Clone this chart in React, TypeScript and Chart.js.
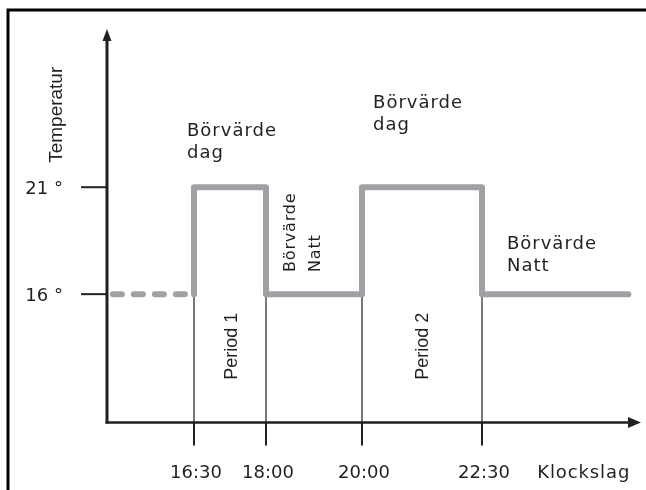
import React, { useEffect, useRef } from 'react';
import { Chart, registerables } from 'chart.js';

Chart.register(...registerables);

// ---- data ----
const switchTimes = [16.5, 18, 20, 22.5];
const switchLabels = ['16:30', '18:00', '20:00', '22:30'];
const xAxisTitle = 'Klockslag';
const yAxisTitle = 'Temperatur';
const tempTicks = [21, 16];
const tempTickLabels = ['21 °', '16 °'];
const nightTemp = 16;

// heating profile (solid) and the lead-in before the first period (dashed)
const profileTimes = [16.5, 16.5, 18, 18, 20, 20, 22.5, 22.5, 25.55];
const profileTemps = [16, 21, 21, 16, 16, 21, 21, 16, 16];
const leadTimes = [14.81, 16.5];
const leadTemps = [16, 16];

// axis ranges (hours / degrees)
const xMin = 14.6875;
const xMax = 25.8125;
const yMin = 10;
const yMax = 28.35;

// annotation texts
const dayLabel = ['Börvärde', 'dag'];
const nightLabel = ['Börvärde', 'Natt'];
const periodLabels = ['Period 1', 'Period 2'];

// annotation anchors in data units (hours, degrees)
const hLabelAnchors = [
  { lines: dayLabel, x: 16.354, y: 23.4 },
  { lines: dayLabel, x: 20.23, y: 24.71 },
  { lines: nightLabel, x: 23.02, y: 18.12 },
];
const vNightAnchor = { lines: nightLabel, x: 18.48, y: 17.04 };
const periodAnchors = [
  { x: 17.25, y: 12.0 },
  { x: 21.23, y: 12.0 },
];
const yTitleAnchor = { x: 13.6, y: 22.14 };
const xTitleAnchor = { x: 23.65 };

const INK = '#231f20';
const GREY = '#a0a1a5';
const DIN = '"DejaVu Sans", sans-serif';
const HELV = '"Liberation Sans", Arial, sans-serif';

const diagramPlugin = {
  id: 'diagram',
  beforeDatasetsDraw(chart: any) {
    const { ctx, scales } = chart;
    const xs = scales.x;
    const ys = scales.y;
    const x0 = xs.getPixelForValue(xMin);
    const xEnd = xs.getPixelForValue(xMax);
    const y0 = ys.getPixelForValue(yMin);
    const yTop = ys.getPixelForValue(yMax);
    ctx.save();
    ctx.strokeStyle = '#000';
    ctx.lineCap = 'butt';
    // frame
    ctx.lineWidth = 3;
    ctx.beginPath();
    ctx.moveTo(8, 490);
    ctx.lineTo(8, 10);
    ctx.lineTo(646, 10);
    ctx.stroke();

    ctx.strokeStyle = INK;
    ctx.fillStyle = INK;
    // y axis
    ctx.lineWidth = 3;
    ctx.beginPath();
    ctx.moveTo(x0, y0 + 1);
    ctx.lineTo(x0, yTop + 8);
    ctx.stroke();
    ctx.beginPath();
    ctx.moveTo(x0, yTop - 1);
    ctx.lineTo(x0 - 4.5, yTop + 11);
    ctx.lineTo(x0 + 4.5, yTop + 11);
    ctx.closePath();
    ctx.fill();
    // x axis
    ctx.lineWidth = 2.5;
    ctx.beginPath();
    ctx.moveTo(x0 - 1.5, y0);
    ctx.lineTo(xEnd - 10, y0);
    ctx.stroke();
    ctx.beginPath();
    ctx.moveTo(xEnd, y0);
    ctx.lineTo(xEnd - 13, y0 - 5.5);
    ctx.lineTo(xEnd - 13, y0 + 5.5);
    ctx.closePath();
    ctx.fill();

    // y ticks
    ctx.lineWidth = 2;
    tempTicks.forEach((t) => {
      const py = ys.getPixelForValue(t);
      ctx.beginPath();
      ctx.moveTo(x0 - 26, py);
      ctx.lineTo(x0, py);
      ctx.stroke();
    });
    // x ticks + thin guide lines
    switchTimes.forEach((t) => {
      const px = xs.getPixelForValue(t);
      ctx.lineWidth = 2;
      ctx.beginPath();
      ctx.moveTo(px, y0);
      ctx.lineTo(px, y0 + 23);
      ctx.stroke();
      ctx.lineWidth = 1.2;
      ctx.beginPath();
      ctx.moveTo(px, ys.getPixelForValue(nightTemp));
      ctx.lineTo(px, y0);
      ctx.stroke();
    });
    ctx.restore();
  },
  afterDatasetsDraw(chart: any) {
    const { ctx, scales } = chart;
    const xs = scales.x;
    const ys = scales.y;
    const x0 = xs.getPixelForValue(xMin);
    const y0 = ys.getPixelForValue(yMin);
    ctx.save();
    ctx.fillStyle = INK;
    ctx.textBaseline = 'alphabetic';

    // y tick labels
    ctx.font = `18px ${DIN}`;
    ctx.textAlign = 'right';
    (ctx as any).letterSpacing = '0px';
    tempTicks.forEach((t, i) => {
      ctx.fillText(tempTickLabels[i], x0 - 44, ys.getPixelForValue(t) + 6.5);
    });
    // x tick labels
    ctx.textAlign = 'center';
    switchTimes.forEach((t, i) => {
      ctx.fillText(switchLabels[i], xs.getPixelForValue(t) + 2, y0 + 55);
    });
    // x title
    ctx.textAlign = 'left';
    (ctx as any).letterSpacing = '0.9px';
    ctx.fillText(xAxisTitle, xs.getPixelForValue(xTitleAnchor.x), y0 + 55);

    // horizontal labels
    (ctx as any).letterSpacing = '1px';
    hLabelAnchors.forEach((a) => {
      const px = xs.getPixelForValue(a.x);
      const py = ys.getPixelForValue(a.y);
      a.lines.forEach((ln, i) => ctx.fillText(ln, px, py + i * 22));
    });

    // vertical "Börvärde Natt"
    ctx.font = `16px ${DIN}`;
    (ctx as any).letterSpacing = '0.8px';
    {
      const px = xs.getPixelForValue(vNightAnchor.x);
      const py = ys.getPixelForValue(vNightAnchor.y);
      vNightAnchor.lines.forEach((ln, i) => {
        ctx.save();
        ctx.translate(px + i * 25 + 6, py);
        ctx.rotate(-Math.PI / 2);
        ctx.textAlign = 'left';
        ctx.fillText(ln, 0, 0);
        ctx.restore();
      });
    }

    // period labels
    (ctx as any).letterSpacing = '0px';
    ctx.font = `18px ${HELV}`;
    periodAnchors.forEach((a, i) => {
      ctx.save();
      ctx.translate(xs.getPixelForValue(a.x) + 6.5, ys.getPixelForValue(a.y));
      ctx.rotate(-Math.PI / 2);
      ctx.textAlign = 'left';
      ctx.fillText(periodLabels[i], 0, 0);
      ctx.restore();
    });

    // y title
    ctx.font = `19px ${HELV}`;
    ctx.save();
    ctx.translate(xs.getPixelForValue(yTitleAnchor.x) + 7, ys.getPixelForValue(yTitleAnchor.y));
    ctx.rotate(-Math.PI / 2);
    ctx.textAlign = 'left';
    ctx.fillText(yAxisTitle, 0, 0);
    ctx.restore();

    ctx.restore();
  },
};

export default function App() {
  const canvasRef = useRef<HTMLCanvasElement | null>(null);

  useEffect(() => {
    const canvas = canvasRef.current;
    if (!canvas) return;
    const chart = new Chart(canvas, {
      type: 'line',
      data: {
        datasets: [
          {
            data: leadTimes.map((x, i) => ({ x, y: leadTemps[i] })),
            borderColor: GREY,
            borderWidth: 6,
            borderDash: [9, 12],
            borderCapStyle: 'round',
            pointRadius: 0,
            fill: false,
            clip: false as any,
          },
          {
            data: profileTimes.map((x, i) => ({ x, y: profileTemps[i] })),
            borderColor: GREY,
            borderWidth: 6,
            borderCapStyle: 'round',
            borderJoinStyle: 'round',
            pointRadius: 0,
            fill: false,
            clip: false as any,
          },
        ],
      },
      options: {
        animation: false,
        responsive: true,
        maintainAspectRatio: false,
        layout: { padding: { left: 107, right: 5, top: 30, bottom: 67.5 } },
        plugins: { legend: { display: false }, tooltip: { enabled: false } },
        events: [],
        scales: {
          x: { type: 'linear', min: xMin, max: xMax, display: false },
          y: { type: 'linear', min: yMin, max: yMax, display: false },
        },
      },
      plugins: [diagramPlugin],
    });
    return () => chart.destroy();
  }, []);

  return (
    <div style={{ position: 'absolute', left: 0, top: 0, width: 646, height: 490, background: '#fff' }}>
      <canvas ref={canvasRef} />
    </div>
  );
}
